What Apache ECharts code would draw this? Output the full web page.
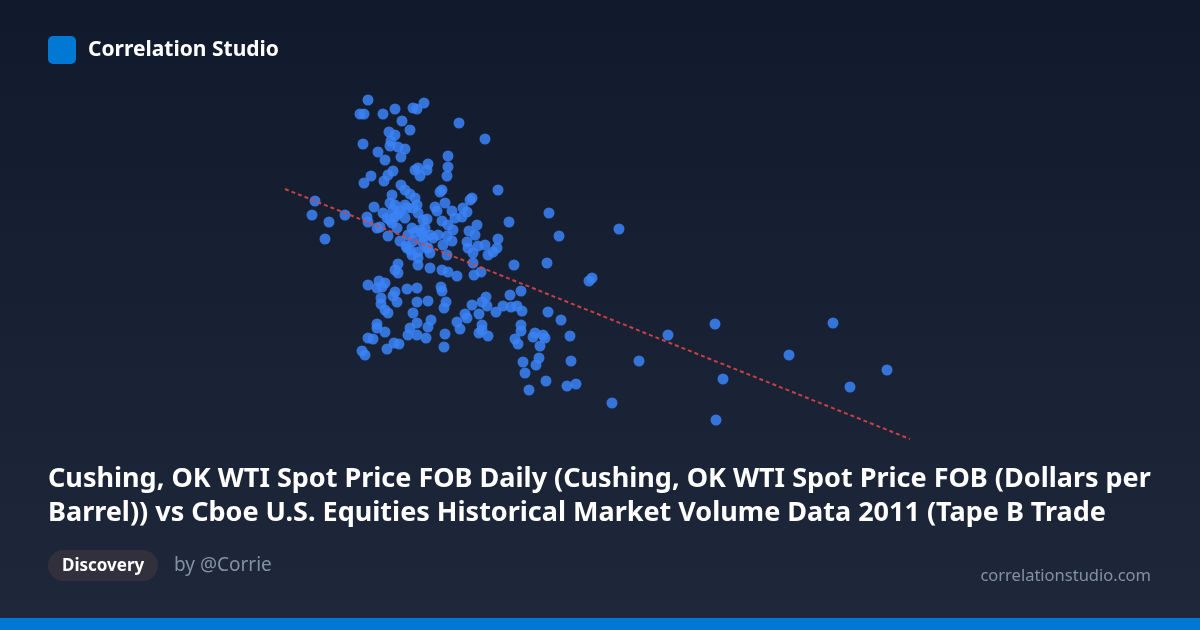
<!DOCTYPE html>
<html>
<head>
<meta charset="utf-8">
<script src="https://cdn.jsdelivr.net/npm/echarts@6/dist/echarts.min.js"></script>
<style>
html,body{margin:0;padding:0;background:#111827;}
#chart{width:1200px;height:630px;}
</style>
</head>
<body>
<div id="chart"></div>
<script>
// WTI spot price (x) and Tape B trade volume (y)
const wtiPrice = [
78.8,78.0,78.4,80.3,81.5,83.3,83.7,84.4,82.2,83.0,
80.9,81.5,87.9,90.5,78.3,81.1,81.0,81.8,82.5,82.1,
79.8,80.5,86.8,86.8,86.7,84.8,84.7,83.8,84.0,83.5,
81.3,80.8,80.4,79.1,78.4,82.1,82.5,83.0,83.5,81.2,
81.0,81.5,82.0,82.7,83.3,79.4,73.5,73.2,74.9,76.5,
74.5,78.7,78.8,79.7,80.7,81.2,81.7,80.8,82.0,82.8,
83.3,82.6,80.3,81.3,81.8,82.5,83.7,83.8,84.3,84.7,
80.0,81.0,81.5,82.5,83.2,83.5,84.0,84.3,84.5,82.7,
83.2,83.8,84.3,84.7,91.8,86.0,86.2,89.0,89.2,88.3,
88.7,85.5,85.7,86.5,87.2,87.5,88.2,89.7,88.9,89.5,
92.9,86.2,86.8,87.3,84.2,85.0,85.8,86.7,87.2,88.7,
89.8,90.5,91.8,91.7,86.3,85.3,96.9,97.9,103.9,84.8,
85.0,83.8,83.8,86.7,88.8,89.3,90.8,91.3,89.3,85.0,
86.2,86.8,87.7,89.4,90.1,93.4,96.7,100.9,101.2,86.1,
86.2,83.7,94.1,93.0,84.8,86.6,86.4,83.7,83.3,89.2,
90.2,90.6,90.7,91.6,92.3,93.1,93.7,94.2,88.5,88.7,
89.9,87.7,88.0,85.1,84.8,83.7,83.7,84.6,90.2,90.2,
89.9,90.8,86.5,86.4,94.1,94.1,93.5,93.8,95.3,95.5,
96.0,96.3,96.5,95.9,95.6,94.3,94.5,94.9,96.8,98.1,
99.0,99.1,96.6,98.7,99.6,103.2,105.9,108.8,113.5,114.3,
113.6,125.3,120.9,127.0,130.7,81.8,81.5,81.8,83.0,78.8,
79.9,80.2,80.5,79.7,81.5,81.3,82.7,80.1,80.1,81.7,
80.5,80.8,79.7,79.7,80.5,83.0,82.8,78.8,79.3,81.4,
81.9,80.7,78.2,78.5
];
const tapeBVolume = [
440,426,426,426,431,432,431,437,419,410,
408,405,417,401,396,399,394,393,391,383,
388,380,384,373,364,376,370,372,364,370,
369,365,359,364,357,355,350,346,342,345,
337,335,329,332,332,333,339,325,318,325,
301,323,318,312,322,317,312,304,299,305,
299,294,327,330,326,335,335,327,320,321,
313,320,323,322,312,308,310,303,312,292,
285,288,297,292,350,348,350,340,342,332,
328,333,329,337,329,322,323,315,309,305,
318,319,315,310,307,305,305,304,299,298,
294,295,301,292,295,302,327,304,311,292,
287,282,275,285,292,287,285,288,277,272,
270,268,264,265,268,275,277,259,262,253,
249,252,249,245,239,238,232,238,227,235,
238,243,234,228,234,233,234,229,226,222,
226,218,211,220,213,217,205,202,215,210,
207,204,206,193,215,209,201,196,203,207,
194,205,202,182,175,178,167,150,228,220,
204,179,159,154,156,137,179,205,216,161,
120,217,185,153,170,276,270,267,290,255,
259,253,257,252,248,244,251,242,236,238,
230,227,216,212,208,212,205,202,201,197,
196,191,189,185
];
// trend line end points
const trendX = [70.5, 133.0];
const trendY = [351, 101];

const brand = 'Correlation Studio';
const titleLines = [
  'Cushing, OK WTI Spot Price FOB Daily (Cushing, OK WTI Spot Price FOB (Dollars per',
  'Barrel)) vs Cboe U.S. Equities Historical Market Volume Data 2011 (Tape B Trade'
];
const tag = 'Discovery';
const author = 'by @Corrie';
const site = 'correlationstudio.com';

const FONT = '"Noto Sans", "Open Sans", sans-serif';
const chart = echarts.init(document.getElementById('chart'), null, {renderer: 'canvas'});
const points = wtiPrice.map((x, i) => [x, tapeBVolume[i]]);
const trend = trendX.map((x, i) => [x, trendY[i]]);

function txt(x, y, text, font, fill, align) {
  return {type: 'text', x: x, y: y, style: {text: text, font: font, fill: fill, align: align || 'left', verticalAlign: 'middle'}};
}

chart.setOption({
  backgroundColor: {
    type: 'linear', x: 0, y: 0, x2: 0, y2: 1,
    colorStops: [{offset: 0, color: '#111a2c'}, {offset: 1, color: '#1f283a'}]
  },
  animation: false,
  grid: {left: 280, right: 280, top: 90, bottom: 190},
  xAxis: {type: 'value', min: 70, max: 134, show: false, splitLine: {show: false}},
  yAxis: {type: 'value', min: 100, max: 450, show: false, splitLine: {show: false}},
  series: [
    {
      type: 'scatter',
      data: points,
      symbolSize: 11,
      itemStyle: {color: '#3b82f6', opacity: 0.85},
      z: 2
    },
    {
      type: 'line',
      data: trend,
      showSymbol: false,
      lineStyle: {color: '#dc4444', width: 2, type: [4, 3], opacity: 0.9},
      z: 3
    }
  ],
  graphic: [
    {type: 'rect', x: 48, y: 36, shape: {width: 28, height: 28, r: 5}, style: {fill: '#0078d4'}},
    txt(88, 50, brand, 'bold 21px ' + FONT, '#ffffff'),
    txt(48, 479, titleLines[0], 'bold 27px ' + FONT, '#ffffff'),
    txt(48, 513, titleLines[1], 'bold 27px ' + FONT, '#ffffff'),
    {type: 'rect', x: 48, y: 550, shape: {width: 110, height: 31, r: 15.5}, style: {fill: '#33303e'}},
    txt(62, 566, tag, 'bold 17px ' + FONT, '#ffffff'),
    txt(174, 566, author, '19px ' + FONT, '#8391a7'),
    txt(1151, 576, site, '16.5px ' + FONT, '#8391a7', 'right'),
    {type: 'rect', x: 0, y: 618, shape: {width: 1200, height: 12}, style: {fill: '#0078d4'}}
  ]
});
</script>
</body>
</html>
